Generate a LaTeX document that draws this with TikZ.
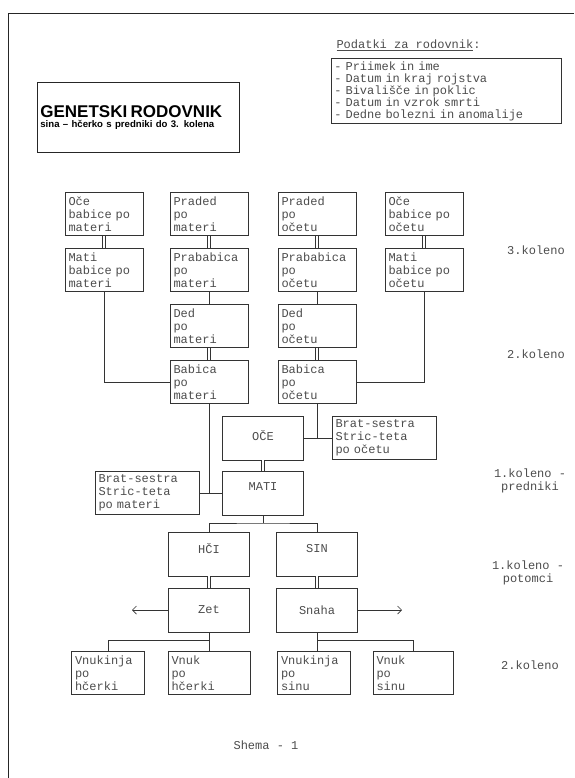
\documentclass[tikz,border=0pt]{standalone}
\usepackage{fontspec}
\setmainfont{Liberation Sans}
\setmonofont{Liberation Mono}
\usetikzlibrary{arrows.meta, positioning, calc}

\begin{document}
\begin{tikzpicture}[
    x=1pt, y=-1pt,
    typed/.style={font=\ttfamily\fontsize{12}{13}\selectfont, text=black!70},
    pbox/.style={typed, draw=black!80, line width=0.7pt, minimum width=78pt, minimum height=43pt, text width=71pt, align=left, inner sep=3pt},
    lbox/.style={typed, draw=black!80, line width=0.7pt, minimum width=81pt, minimum height=44pt, align=center},
    upper/.style={text depth=12pt},
    wbox/.style={pbox, minimum width=104pt, text width=97pt},
    lvl/.style={typed, align=center},
    wire/.style={draw=black!80, line width=0.7pt},
    dbl/.style={draw=black!80, line width=0.6pt, double, double distance=2pt},
    >={Straight Barb[length=4pt,width=8pt]}
]
\useasboundingbox (0,0) rectangle (574,778);

% Page frame
\draw[black!85, line width=0.8pt] (574,13) -- (8,13) -- (8,778);

% Title and data list
\node[draw=black!85, line width=0.8pt, anchor=north west, minimum width=202pt, minimum height=70pt, text width=196pt, align=left, inner sep=3pt] (title) at (37,82)
    {{\bfseries\fontsize{17}{19}\selectfont GENETSKI RODOVNIK}\\[-2pt]
     {\bfseries\fontsize{9.6}{11}\selectfont sina – hčerko s predniki do 3. kolena}};
\node[typed, anchor=west] (podHead) at (333,45) {\underline{Podatki za rodovnik}:};
\node[typed, draw=black!80, line width=0.7pt, anchor=north west, text width=224pt, align=left, inner sep=3pt, font=\ttfamily\fontsize{12}{12}\selectfont] (podList) at (331,58)
    {- Priimek in ime\\- Datum in kraj rojstva\\- Bivališče in poklic\\- Datum in vzrok smrti\\- Dedne bolezni in anomalije};

% 3. koleno
\node[pbox] (oceBm) at (104,214) {Oče\\babice po\\materi};
\node[pbox] (pradedM) at (209,214) {Praded\\po\\materi};
\node[pbox] (pradedO) at (317,214) {Praded\\po\\očetu};
\node[pbox] (oceBo) at (424,214) {Oče\\babice po\\očetu};
\node[pbox] (matiBm) at (104,270) {Mati\\babice po\\materi};
\node[pbox] (prababM) at (209,270) {Prababica\\po\\materi};
\node[pbox] (prababO) at (317,270) {Prababica\\po\\očetu};
\node[pbox] (matiBo) at (424,270) {Mati\\babice po\\očetu};

% 2. koleno
\node[pbox] (dedM) at (209,326) {Ded\\po\\materi};
\node[pbox] (dedO) at (317,326) {Ded\\po\\očetu};
\node[pbox] (babM) at (209,382) {Babica\\po\\materi};
\node[pbox] (babO) at (317,382) {Babica\\po\\očetu};

% 1. koleno - predniki
\node[lbox, text depth=5pt] (oce) at (263,438) {OČE};
\node[wbox] (bsO) at (384,438) {Brat-sestra\\Stric-teta\\po očetu};
\node[lbox, upper] (mati) at (263,493) {MATI};
\node[wbox] (bsM) at (147,493) {Brat-sestra\\Stric-teta\\po materi};

% 1. koleno - potomci
\node[lbox, upper] (hci) at (209,554) {HČI};
\node[lbox, upper] (sin) at (317,554) {SIN};
\node[lbox] (zet) at (209,610) {Zet};
\node[lbox] (snaha) at (317,610) {Snaha};

% 2. koleno - vnuki
\node[pbox, minimum width=73pt, text width=66pt] (vnkH) at (108,673) {Vnukinja\\po\\hčerki};
\node[pbox, minimum width=82pt, text width=75pt] (vnH) at (209,673) {Vnuk\\po\\hčerki};
\node[pbox, minimum width=73pt, text width=66pt] (vnkS) at (314,673) {Vnukinja\\po\\sinu};
\node[pbox, minimum width=80pt, text width=73pt] (vnS) at (413,673) {Vnuk\\po\\sinu};

% Generation labels
\node[lvl] (k3) at (536,250) {3.koleno};
\node[lvl] (k2) at (536,354) {2.koleno};
\node[lvl] (k1p) at (530,481) {1.koleno -\\predniki};
\node[lvl] (k1d) at (528,573) {1.koleno -\\potomci};
\node[lvl] (k2d) at (530,665) {2.koleno};
\node[lvl] (shema) at (266,745) {Shema - 1};

% Connections - ancestors
\draw[dbl] (oceBm) -- (matiBm);
\draw[dbl] (pradedM) -- (prababM);
\draw[dbl] (pradedO) -- (prababO);
\draw[dbl] (oceBo) -- (matiBo);
\draw[wire] (prababM) -- (dedM);
\draw[wire] (prababO) -- (dedO);
\draw[dbl] (dedM) -- (babM);
\draw[dbl] (dedO) -- (babO);
\draw[wire] (matiBm) |- (babM);
\draw[wire] (matiBo) |- (babO);

% Connections - parents
\draw[wire] (babO.south) -- (babO.south |- oce.east);
\draw[wire] (oce) -- (bsO);
\draw[wire] (babM.south) -- (babM.south |- mati.west);
\draw[wire] (bsM) -- (mati);
\draw[dbl] (oce) -- (mati);

% Connections - children
\coordinate (kids) at (263,523);
\draw[wire] (mati) -- (kids);
\draw[wire] (hci) |- (kids) -| (sin);
\draw[dbl] (hci) -- (zet);
\draw[dbl] (sin) -- (snaha);
\coordinate (zetOut) at (132,610);
\coordinate (snahaOut) at (402,610);
\draw[wire, ->] (zet) -- (zetOut);
\draw[wire, ->] (snaha) -- (snahaOut);

% Connections - grandchildren
\coordinate (zetJoin) at (209,640);
\coordinate (snahaJoin) at (317,640);
\draw[wire] (zet) -- (vnH);
\draw[wire] (vnkH) |- (zetJoin);
\draw[wire] (snaha.south) -- (snaha.south |- vnkS.north);
\draw[wire] (snahaJoin) -| (vnS);

\end{tikzpicture}
\end{document}
